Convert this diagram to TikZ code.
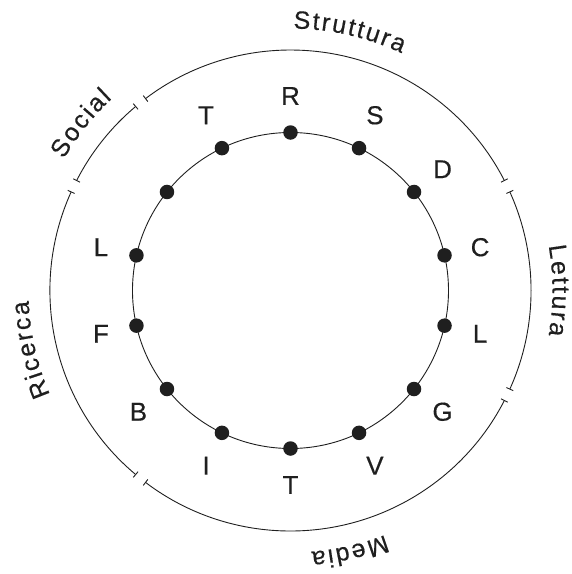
\documentclass[tikz,border=0pt]{standalone}
\usepackage{fontspec}
\setmainfont[FakeBold=0.35]{Liberation Sans}
\usetikzlibrary{arrows.meta}
\definecolor{ink}{gray}{0.12}
% place a word along a clockwise arc, tops outward
% #1 name, #2 centre angle, #3 baseline radius, #4 letter spacing, #5 letters
\newcommand\arcword[5]{%
  \gdef\totw{0}%
  \foreach \c in {#5}{\pgfmathsetmacro\tmp{\totw+width("\c")+#4}\global\let\totw\tmp}%
  \foreach \c [count=\k, remember=\snew as \s (initially 0)] in {#5}{%
    \pgfmathsetmacro\wc{width("\c")}%
    \pgfmathsetmacro\pos{\s+\wc/2-(\totw-#4)/2}%
    \pgfmathsetmacro\ang{#2-\pos/#3*180/pi}%
    \node[arcletter, rotate=\ang-90] (#1\k) at (\ang:#3) {\c};%
    \pgfmathsetmacro\snew{\s+\wc+#4}%
  }%
}
\begin{document}
\begin{tikzpicture}[x=1pt,y=1pt,
  ring/.style={draw=ink,line width=0.9pt},
  dotnode/.style={circle, fill=ink, inner sep=0pt, minimum size=14.5pt},
  letter/.style={font=\fontsize{26}{27}\selectfont, text=ink, inner sep=0pt},
  seg/.style={draw=ink,line width=0.9pt, {Bar[width=7.5pt,line width=0.9pt]}-{Bar[width=7.5pt,line width=0.9pt]}},
  arcletter/.style={anchor=base, inner sep=0pt, outer sep=0pt, text=ink},
]
\useasboundingbox (-290.5,-283.5) rectangle (281.5,290.5);
% inner ring with dots and letters
\draw[ring] (0,0) circle[radius=158];
\foreach \l [count=\k from 0] in {R,S,D,C,L,G,V,T,I,B,F,L,{},T}{
  \node[dotnode] (d\k) at ({90-\k*360/14}:158) {};
  \node[letter] (l\k) at ({90-\k*360/14}:194.5) {\l};
}
% outer ring segments
\def\gd{1.4}
\foreach \a/\b in {-25.714/25.714, 25.714/128.571, 128.571/154.286, 154.286/231.429, 231.429/334.286}{
  \draw[seg] ({\a+\gd}:240.5) arc[start angle={\a+\gd}, end angle={\b-\gd}, radius=240.5];
}
% curved labels
\fontsize{25}{26}\selectfont
\arcword{st}{77.143}{262}{2}{S,t,r,u,t,t,u,r,a}
\arcword{so}{141.429}{262}{2}{S,o,c,i,a,l}
\arcword{ri}{192.857}{262}{2}{R,i,c,e,r,c,a}
\arcword{me}{282.857}{262}{2}{M,e,d,i,a}
\arcword{le}{0}{262}{2}{L,e,t,t,u,r,a}
\end{tikzpicture}
\end{document}
